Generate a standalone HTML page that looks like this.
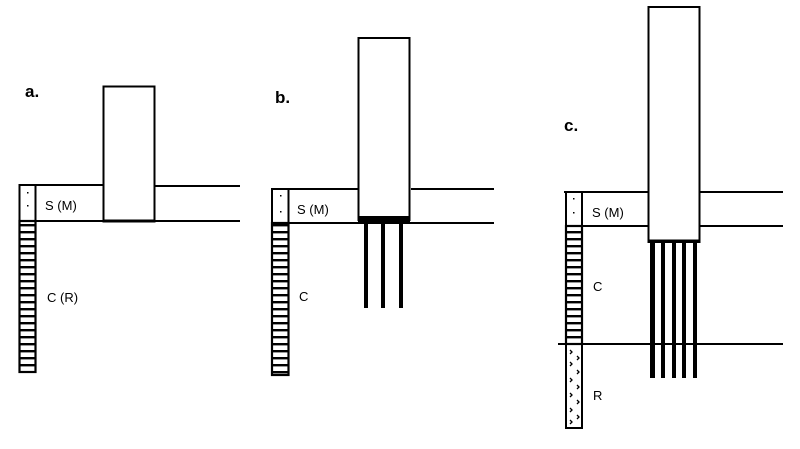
<!DOCTYPE html>
<html><head><meta charset="utf-8"><style>
html,body{margin:0;padding:0;background:#fff;width:800px;height:449px;overflow:hidden}
svg{display:block}
text{font-family:"Liberation Sans",Arial,sans-serif;fill:#000}
</style></head><body>
<svg width="800" height="449" viewBox="0 0 800 449" xmlns="http://www.w3.org/2000/svg">
<defs>
<pattern id="stripe" x="0" y="0" width="20" height="7" patternUnits="userSpaceOnUse">
<rect x="0" y="0" width="20" height="2.4" fill="#000"/>
</pattern>
</defs>
<g stroke="#000" fill="none">
<line x1="19" y1="185" x2="103" y2="185" stroke-width="2"/>
<line x1="155" y1="186" x2="240" y2="186" stroke-width="2"/>
<line x1="36" y1="221" x2="240" y2="221" stroke-width="2"/>
<rect x="103.5" y="86.5" width="51" height="135" stroke-width="2" fill="#fff"/>
<line x1="103" y1="221" x2="155" y2="221" stroke-width="3"/>
<rect x="19.5" y="185" width="16" height="36" stroke-width="2"/>
<rect x="19.5" y="221" width="16" height="151" stroke-width="2.2" fill="url(#stripe)"/>
<line x1="271" y1="189" x2="358" y2="189" stroke-width="2"/>
<line x1="411" y1="189" x2="494" y2="189" stroke-width="2"/>
<line x1="289" y1="223" x2="494" y2="223" stroke-width="2"/>
<rect x="272" y="189" width="16.5" height="34" stroke-width="2"/>
<rect x="272" y="223" width="16.5" height="152" stroke-width="2.2" fill="url(#stripe)"/>
<rect x="358.5" y="38" width="51" height="182" stroke-width="2" fill="#fff"/>
<rect x="358" y="216" width="52" height="6" fill="#000" stroke="none"/>
<line x1="564" y1="192" x2="648" y2="192" stroke-width="2"/>
<line x1="700" y1="192" x2="783" y2="192" stroke-width="2"/>
<line x1="582" y1="226" x2="783" y2="226" stroke-width="2"/>
<line x1="558" y1="344" x2="783" y2="344" stroke-width="2"/>
<rect x="566" y="192" width="16" height="34" stroke-width="2"/>
<rect x="566" y="226" width="16" height="118" stroke-width="2.2" fill="url(#stripe)"/>
<rect x="566" y="344" width="16" height="84" stroke-width="2"/>
<rect x="648.5" y="7" width="51" height="235" stroke-width="2" fill="#fff"/>
<line x1="648" y1="241" x2="700" y2="241" stroke-width="3"/>
</g>
<g fill="#000">
<rect x="364" y="220" width="4" height="88"/>
<rect x="381" y="220" width="4" height="88"/>
<rect x="399" y="220" width="4" height="88"/>
<rect x="650" y="242" width="5" height="136"/>
<rect x="661" y="242" width="4" height="136"/>
<rect x="672" y="242" width="4" height="136"/>
<rect x="682" y="242" width="4" height="136"/>
<rect x="693" y="242" width="4" height="136"/>
</g>
<g fill="#000">
<rect x="27" y="192" width="1.5" height="1.5"/><rect x="27" y="205" width="1.5" height="1.5"/>
<rect x="280" y="195" width="1.5" height="1.5"/><rect x="280" y="211" width="1.5" height="1.5"/>
<rect x="573" y="198" width="1.5" height="1.5"/><rect x="573" y="212" width="1.5" height="1.5"/>
</g>
<g fill="none" stroke="#000" stroke-width="1.3">
<path d="M570 350 l2 2 -2 2 M577 356 l2 2 -2 2 M570 362 l2 2 -2 2 M577 370 l2 2 -2 2 M570 378 l2 2 -2 2 M577 385 l2 2 -2 2 M570 393 l2 2 -2 2 M577 400 l2 2 -2 2 M570 408 l2 2 -2 2 M577 415 l2 2 -2 2 M570 420 l2 2 -2 2"/>
</g>
<text x="25" y="97" font-size="17" font-weight="bold">a.</text>
<text x="275" y="103" font-size="17" font-weight="bold">b.</text>
<text x="564" y="131" font-size="17" font-weight="bold">c.</text>
<text x="45" y="210" font-size="13">S (M)</text>
<text x="47" y="302" font-size="13">C (R)</text>
<text x="297" y="214" font-size="13">S (M)</text>
<text x="299" y="301" font-size="13">C</text>
<text x="592" y="217" font-size="13">S (M)</text>
<text x="593" y="291" font-size="13">C</text>
<text x="593" y="400" font-size="13">R</text>
</svg>
</body></html>
